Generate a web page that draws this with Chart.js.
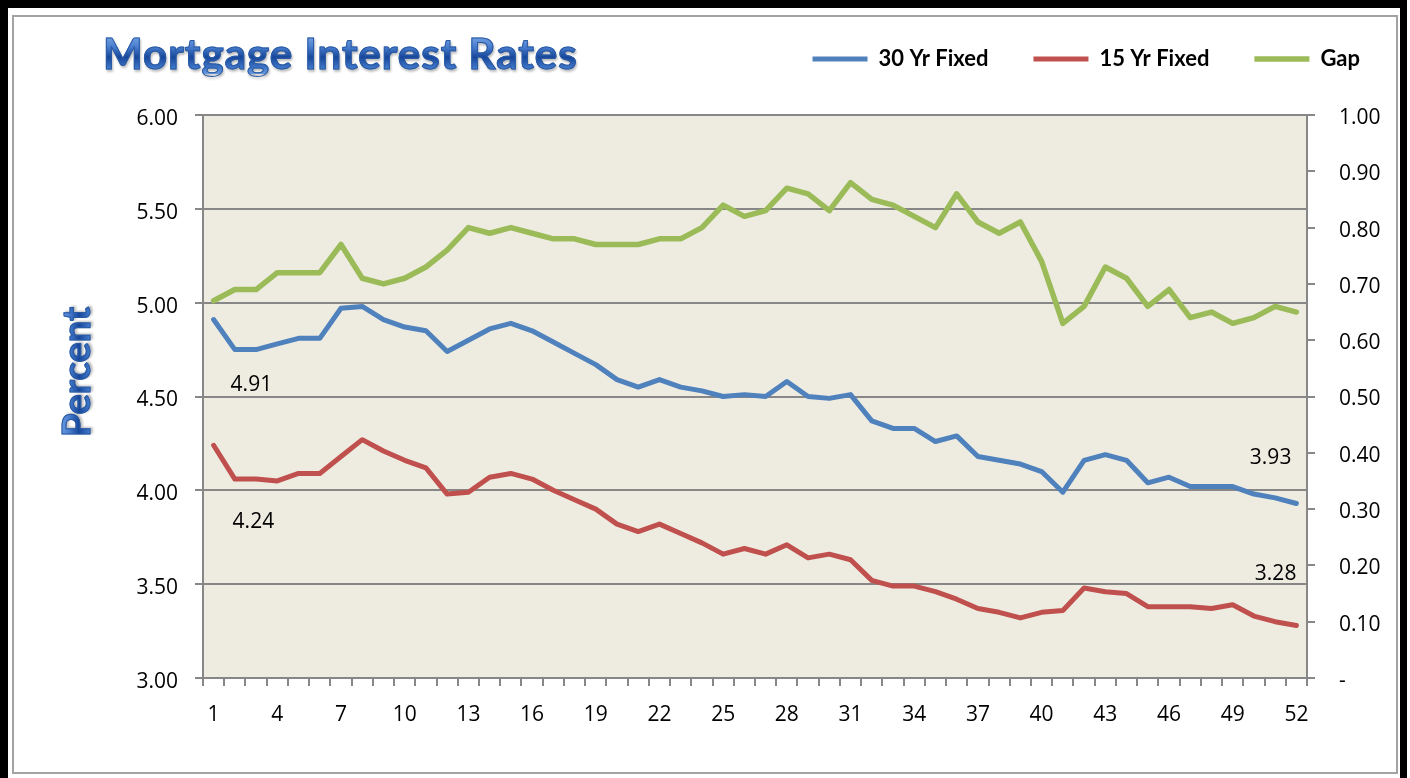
<!DOCTYPE html>
<html>
<head>
<meta charset="utf-8">
<title>Mortgage Interest Rates</title>
<script src="https://cdn.jsdelivr.net/npm/chart.js@4.4.0/dist/chart.umd.min.js"></script>
<style>
  html, body { margin: 0; padding: 0; background: #fff; }
  #wrap { position: relative; width: 1410px; height: 778px; overflow: hidden; }
  #outer {
    position: absolute; left: 0; top: 0; width: 1407px; height: 778px;
    border-left: 8px solid #000; border-top: 8px solid #000; border-right: 7px solid #000;
    box-sizing: border-box;
  }
  #frame {
    position: absolute; left: 12px; top: 15px; width: 1386px; height: 759px;
    border: 2px solid #a3a3a3; box-sizing: border-box;
  }
  #chart { position: absolute; left: 0; top: 0; }
  .wordart {
    position: absolute; font-family: Lato, "Open Sans", sans-serif; font-weight: bold;
    white-space: nowrap; line-height: 1;
    color: #3b6cb8;
    background: linear-gradient(180deg, #86afe8 0%, #4a7fd0 35%, #17479a 60%, #3f76c8 85%, #6d9cdf 100%);
    -webkit-background-clip: text; background-clip: text;
    -webkit-text-fill-color: transparent;
    -webkit-text-stroke: 1px #2a5aa4;
    filter: drop-shadow(1px 2px 1px rgba(60, 60, 60, 0.35));
  }
  #title { left: 103px; top: 32px; font-size: 42px; letter-spacing: 1px; }
  #ytitle {
    left: -25px; top: 352px; width: 200px; height: 40px; line-height: 40px;
    text-align: center; font-size: 38px; transform: rotate(-90deg);
  }
</style>
</head>
<body>
<div id="wrap">
  <div id="outer"></div>
  <div id="frame"></div>
  <canvas id="chart" width="1410" height="778"></canvas>
  <div id="title" class="wordart">Mortgage Interest Rates</div>
  <div id="ytitle" class="wordart">Percent</div>
</div>
<script>
// week numbers along the bottom
const weeks = ['1','2','3','4','5','6','7','8','9','10','11','12','13','14','15','16','17','18','19','20',
  '21','22','23','24','25','26','27','28','29','30','31','32','33','34','35','36','37','38','39','40',
  '41','42','43','44','45','46','47','48','49','50','51','52'];

// rates (percent)
const fixed30 = [4.91, 4.75, 4.75, 4.78, 4.81, 4.81, 4.97, 4.98, 4.91, 4.87,
  4.85, 4.74, 4.80, 4.86, 4.89, 4.85, 4.79, 4.73, 4.67, 4.59,
  4.55, 4.59, 4.55, 4.53, 4.50, 4.51, 4.50, 4.58, 4.50, 4.49,
  4.51, 4.37, 4.33, 4.33, 4.26, 4.29, 4.18, 4.16, 4.14, 4.10,
  3.99, 4.16, 4.19, 4.16, 4.04, 4.07, 4.02, 4.02, 4.02, 3.98,
  3.96, 3.93];
const fixed15 = [4.24, 4.06, 4.06, 4.05, 4.09, 4.09, 4.18, 4.27, 4.21, 4.16,
  4.12, 3.98, 3.99, 4.07, 4.09, 4.06, 4.00, 3.95, 3.90, 3.82,
  3.78, 3.82, 3.77, 3.72, 3.66, 3.69, 3.66, 3.71, 3.64, 3.66,
  3.63, 3.52, 3.49, 3.49, 3.46, 3.42, 3.37, 3.35, 3.32, 3.35,
  3.36, 3.48, 3.46, 3.45, 3.38, 3.38, 3.38, 3.37, 3.39, 3.33,
  3.30, 3.28];
// gap between the two, right axis
const gap = [0.67, 0.69, 0.69, 0.72, 0.72, 0.72, 0.77, 0.71, 0.70, 0.71,
  0.73, 0.76, 0.80, 0.79, 0.80, 0.79, 0.78, 0.78, 0.77, 0.77,
  0.77, 0.78, 0.78, 0.80, 0.84, 0.82, 0.83, 0.87, 0.86, 0.83,
  0.88, 0.85, 0.84, 0.82, 0.80, 0.86, 0.81, 0.79, 0.81, 0.74,
  0.63, 0.66, 0.73, 0.71, 0.66, 0.69, 0.64, 0.65, 0.63, 0.64,
  0.66, 0.65];

const seriesNames = ['30 Yr Fixed', '15 Yr Fixed', 'Gap'];
const leftAxis = { min: 3, max: 6, step: 0.5 };
const rightAxis = { min: 0, max: 1, step: 0.1 };
const labelEvery = 3;

const gridGrey = '#878787';
const numFont = { family: '"Open Sans", Lato, sans-serif', size: 21 };

// beige plot area
const plotBg = {
  id: 'plotBg',
  beforeDraw(chart) {
    const a = chart.chartArea, ctx = chart.ctx;
    ctx.save();
    ctx.fillStyle = '#EEECE1';
    ctx.fillRect(a.left, a.top, a.right - a.left, a.bottom - a.top);
    ctx.restore();
  }
};

// first/last value labels, placed from the point positions
const endLabels = {
  id: 'endLabels',
  afterDatasetsDraw(chart, args, opts) {
    const ctx = chart.ctx;
    ctx.save();
    ctx.font = opts.size + 'px ' + opts.family;
    ctx.fillStyle = '#000';
    ctx.textBaseline = 'middle';
    opts.items.forEach(it => {
      const pt = chart.getDatasetMeta(it.ds).data[it.i];
      const v = chart.data.datasets[it.ds].data[it.i];
      ctx.textAlign = it.align;
      ctx.fillText(v.toFixed(2), pt.x + it.dx, pt.y + it.dy);
    });
    ctx.restore();
  }
};

new Chart(document.getElementById('chart'), {
  type: 'line',
  data: {
    labels: weeks,
    datasets: [
      { label: seriesNames[0], data: fixed30, borderColor: '#4F81BD', backgroundColor: '#4F81BD',
        borderWidth: 5, xAxisID: 'x', yAxisID: 'y' },
      { label: seriesNames[1], data: fixed15, borderColor: '#C0504D', backgroundColor: '#C0504D',
        borderWidth: 5, xAxisID: 'x', yAxisID: 'y' },
      { label: seriesNames[2], data: gap, borderColor: '#9BBB59', backgroundColor: '#9BBB59',
        borderWidth: 5.5, xAxisID: 'x', yAxisID: 'y1' }
    ]
  },
  options: {
    responsive: false,
    animation: false,
    layout: { padding: { top: 3, left: 0, right: 5, bottom: 0 } },
    elements: {
      line: { tension: 0, borderJoinStyle: 'round', borderCapStyle: 'round' },
      point: { radius: 0, hoverRadius: 0 }
    },
    plugins: {
      tooltip: { enabled: false },
      legend: {
        position: 'top',
        align: 'end',
        labels: {
          usePointStyle: true,
          pointStyle: 'line',
          pointStyleWidth: 55,
          padding: 45,
          color: '#000',
          font: { family: 'Lato, "Open Sans", sans-serif', size: 22, weight: 'bold' }
        }
      },
      endLabels: {
        family: numFont.family, size: 21,
        items: [
          { ds: 0, i: 0, dx: 17, dy: 65, align: 'left' },
          { ds: 1, i: 0, dx: 19, dy: 77, align: 'left' },
          { ds: 0, i: 51, dx: -5, dy: -45, align: 'right' },
          { ds: 1, i: 51, dx: 0, dy: -51, align: 'right' }
        ]
      }
    },
    scales: {
      x: {
        type: 'category',
        offset: true,
        grid: { offset: true, drawOnChartArea: false, tickLength: 8, color: gridGrey, lineWidth: 2 },
        border: { color: gridGrey, width: 2 },
        ticks: {
          autoSkip: false, maxRotation: 0, padding: 16, color: '#000', font: numFont,
          callback(v, i) { return i % labelEvery === 0 ? this.getLabelForValue(v) : ''; }
        },
        afterFit(s) { s.height = 100; }
      },
      // empty spacer between the legend row and the plot
      xTop: {
        type: 'category', position: 'top', display: true,
        grid: { display: false }, border: { display: false }, ticks: { display: false },
        afterFit(s) { s.height = 35; }
      },
      y: {
        position: 'left',
        min: leftAxis.min, max: leftAxis.max,
        grid: { color: gridGrey, lineWidth: 2, tickLength: 8 },
        border: { color: gridGrey, width: 2 },
        ticks: {
          stepSize: leftAxis.step, padding: 17, labelOffset: 4, color: '#000', font: numFont,
          callback: v => v.toFixed(2)
        },
        afterFit(s) { s.width = 203; }
      },
      y1: {
        position: 'right',
        min: rightAxis.min, max: rightAxis.max,
        grid: { drawOnChartArea: false, color: gridGrey, lineWidth: 2, tickLength: 8 },
        border: { color: gridGrey, width: 2 },
        ticks: {
          stepSize: rightAxis.step, padding: 24, labelOffset: 3, color: '#000', font: numFont,
          callback: v => Math.abs(v) < 1e-9 ? '-' : v.toFixed(2)
        },
        afterFit(s) { s.width = 98; }
      }
    }
  },
  plugins: [plotBg, endLabels]
});
</script>
</body>
</html>
